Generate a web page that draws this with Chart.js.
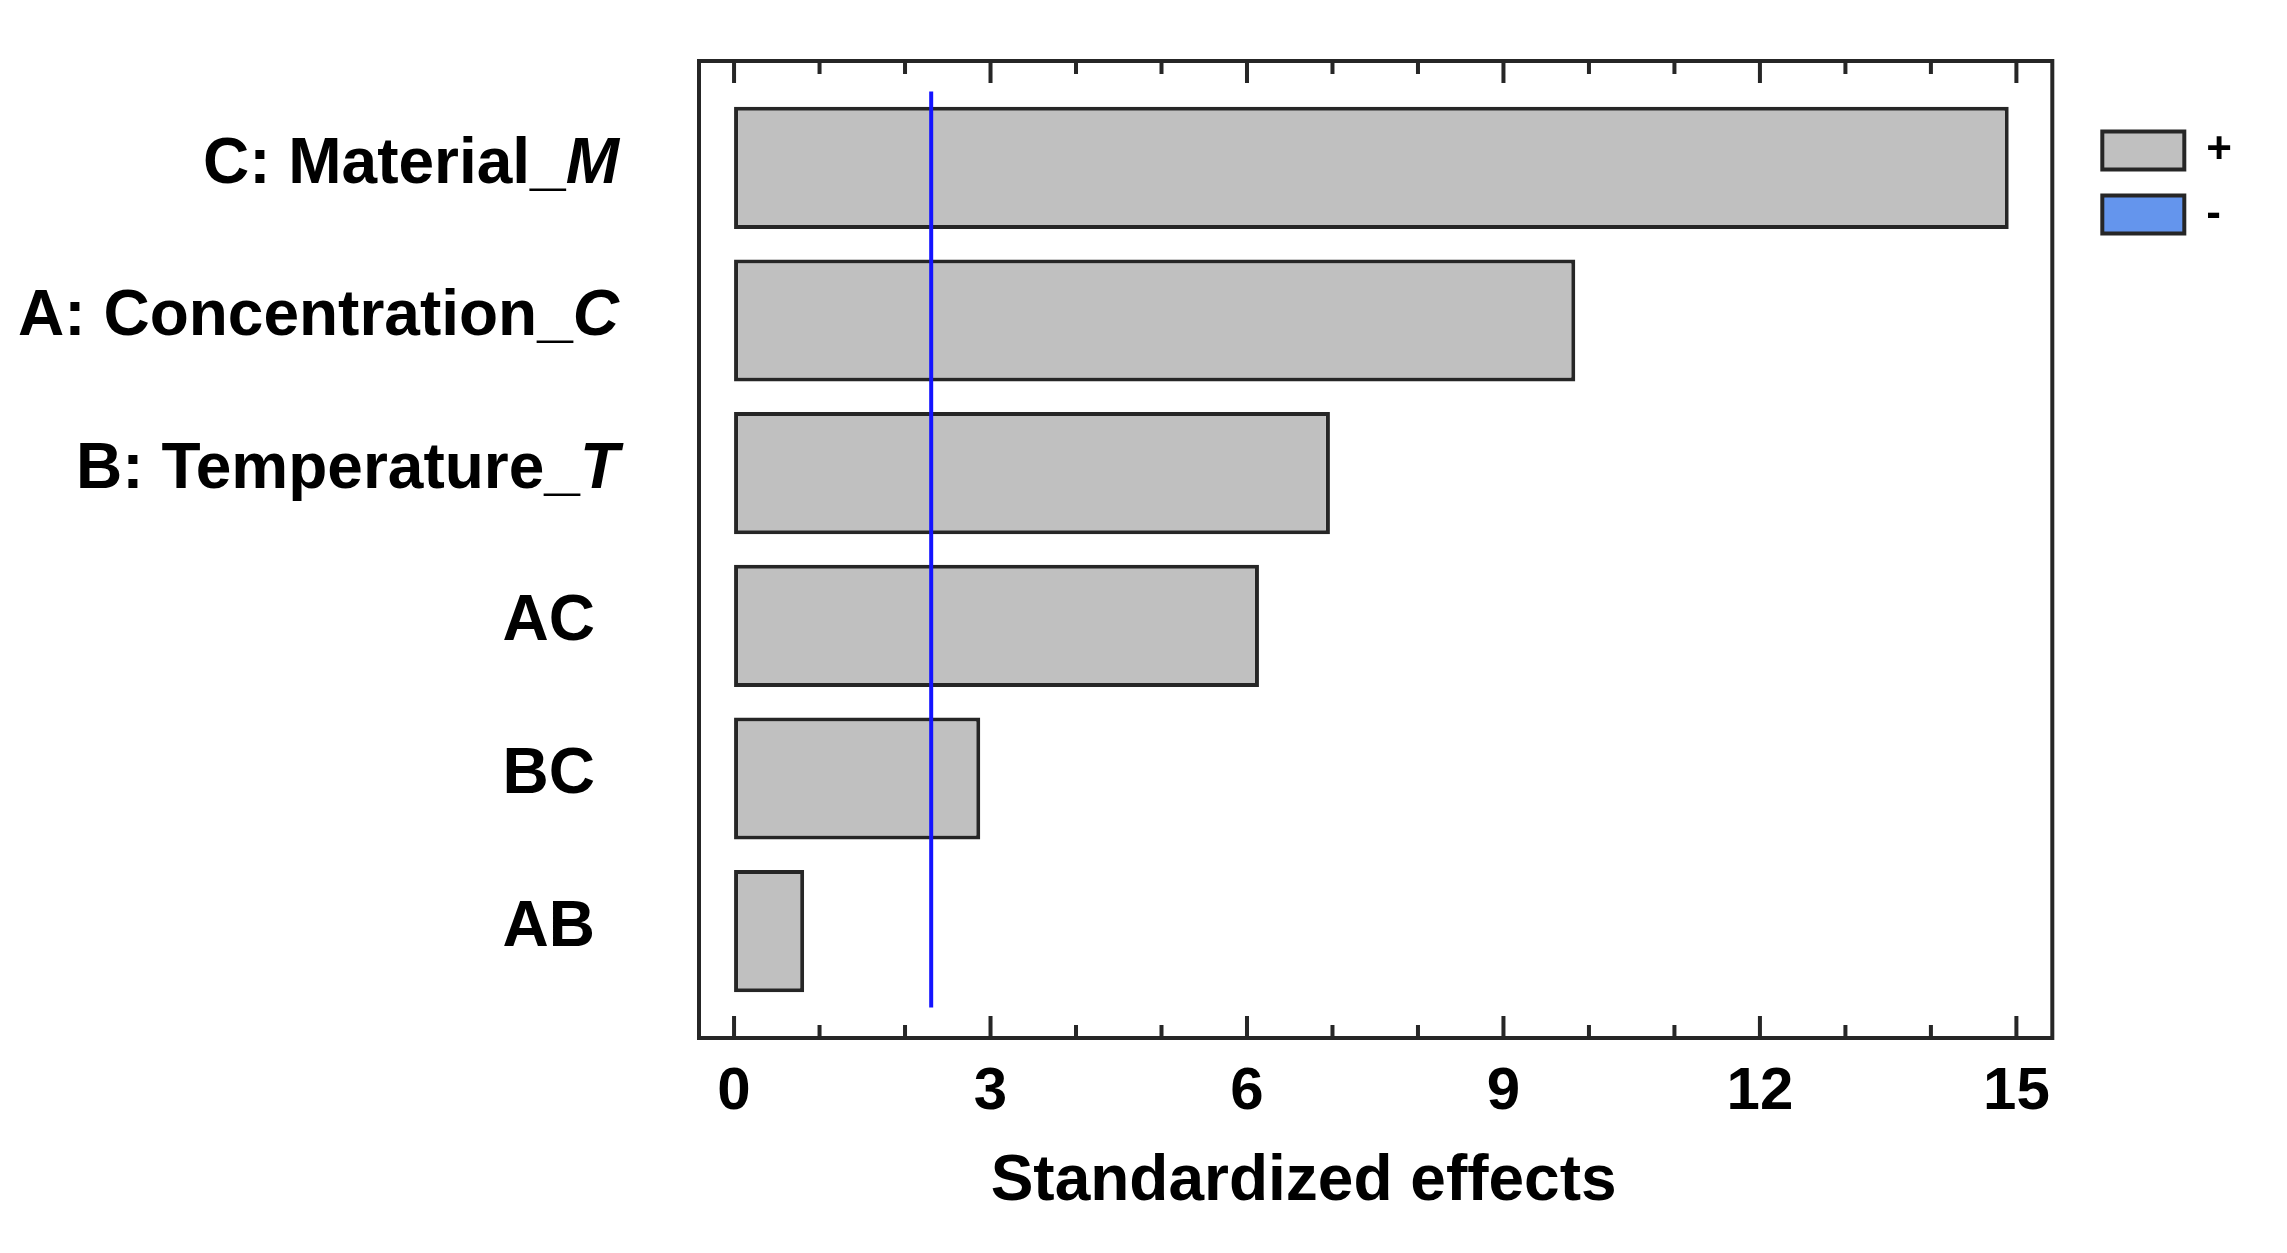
<!DOCTYPE html>
<html lang="en">

<head>
    <meta charset="UTF-8">
    <meta name="viewport" content="width=device-width, initial-scale=1.0">
    <title>Standardized effects</title>
    <script src="https://cdn.jsdelivr.net/npm/chart.js"></script>
    <style>
        html,
        body {
            margin: 0;
            padding: 0;
            background-color: #fff
        }

        #container {
            width: 2287px;
            height: 1253px
        }
    </style>
</head>

<body>
    <div id="container">
        <canvas id="mycanvas"></canvas>
    </div>

    <script>
        // factor names (the last letter is printed in italic)
        const labelText = ['C: Material_', 'A: Concentration_', 'B: Temperature_', 'AC', 'BC', 'AB']
        const labelItalic = ['M', 'C', 'T', '', '', '']
        // standardized effects
        const effects = [14.91, 9.84, 6.97, 6.14, 2.88, 0.82]
        // critical value (blue reference line) and its extent in category units
        const criticalValue = 2.306
        const lineExtent = [-0.5, 5.5]
        // x axis ticks
        const xTicks = [0, 3, 6, 9, 12, 15]
        const minorStep = 1
        const xTitle = 'Standardized effects'
        // legend
        const legendLabels = ['+', '-']
        const legendColors = ['#c0c0c0', '#6495ed']

        const fontFamily = '"Liberation Sans", Arial, sans-serif'
        const edgeColor = '#262626'

        // frame, inward tick marks, category labels with italic suffix and axis title
        const framePlugin = {
            id: 'frame',
            afterDatasetsDraw(chart) {
                const { ctx, chartArea: a, scales: { x, y } } = chart
                ctx.save()
                ctx.strokeStyle = edgeColor
                ctx.lineWidth = 4
                ctx.strokeRect(a.left, a.top, a.right - a.left, a.bottom - a.top)

                for (let v = xTicks[0]; v <= xTicks[xTicks.length - 1]; v += minorStep) {
                    const px = x.getPixelForValue(v)
                    const len = xTicks.includes(v) ? 22 : 13
                    ctx.beginPath()
                    ctx.moveTo(px, a.bottom)
                    ctx.lineTo(px, a.bottom - len)
                    ctx.moveTo(px, a.top)
                    ctx.lineTo(px, a.top + len)
                    ctx.stroke()
                }

                ctx.fillStyle = '#000'
                ctx.textBaseline = 'middle'
                ctx.textAlign = 'left'
                labelText.forEach((t, i) => {
                    const py = y.getPixelForValue(i) - 3
                    ctx.font = 'bold 64px ' + fontFamily
                    const w1 = ctx.measureText(t).width
                    ctx.font = 'italic bold 64px ' + fontFamily
                    const w2 = ctx.measureText(labelItalic[i]).width
                    const right = a.left - (labelItalic[i] ? 80 : 104)
                    const x0 = right - w1 - w2
                    ctx.font = 'bold 64px ' + fontFamily
                    ctx.fillText(t, x0, py)
                    ctx.font = 'italic bold 64px ' + fontFamily
                    ctx.fillText(labelItalic[i], x0 + w1, py)
                })

                ctx.font = 'bold 64px ' + fontFamily
                ctx.textAlign = 'center'
                ctx.fillText(xTitle, (a.left + a.right) / 2 - 72, a.bottom + 144)
                ctx.restore()
            }
        }

        window.onload = () => {
            new Chart(document.getElementById('mycanvas'), {
                type: 'bar',
                plugins: [framePlugin],
                data: {
                    datasets: [
                        {
                            type: 'scatter',
                            label: 'critical',
                            data: lineExtent.map(v => ({ x: criticalValue, y: v })),
                            showLine: true,
                            borderColor: '#1414ff',
                            borderWidth: 4,
                            pointRadius: 0,
                            order: 0
                        },
                        {
                            label: '+',
                            data: effects.map((v, i) => ({ x: v, y: i })),
                            backgroundColor: legendColors[0],
                            borderColor: edgeColor,
                            borderWidth: 4,
                            borderSkipped: false,
                            barPercentage: 0.8,
                            categoryPercentage: 1,
                            order: 1
                        }
                    ]
                },
                options: {
                    indexAxis: 'y',
                    responsive: true,
                    maintainAspectRatio: false,
                    animation: false,
                    events: [],
                    layout: {
                        padding: { left: 699, top: 61, right: 45, bottom: 107 }
                    },
                    scales: {
                        x: {
                            type: 'linear',
                            min: -0.41,
                            max: 15.42,
                            bounds: 'data',
                            grid: { display: false, drawTicks: false },
                            border: { display: false },
                            ticks: {
                                stepSize: 3,
                                includeBounds: false,
                                padding: 18,
                                color: '#000',
                                font: { family: fontFamily, size: 60, weight: 'bold' }
                            },
                            afterBuildTicks: s => { s.ticks = xTicks.map(v => ({ value: v })) }
                        },
                        y: {
                            // kept on the right with no marks: it only leaves the gap before the legend
                            type: 'linear',
                            position: 'right',
                            reverse: true,
                            offset: false,
                            min: -0.7,
                            max: 5.7,
                            bounds: 'data',
                            grid: { display: false, drawTicks: true, tickLength: 30 },
                            border: { display: false },
                            ticks: { display: false, stepSize: 1, includeBounds: false },
                            afterBuildTicks: s => { s.ticks = labelText.map((t, i) => ({ value: i })) }
                        }
                    },
                    plugins: {
                        tooltip: { enabled: false },
                        legend: {
                            position: 'right',
                            align: 'start',
                            onClick: null,
                            title: { display: true, text: '', padding: { top: 0, bottom: 33 } },
                            labels: {
                                boxWidth: 82,
                                boxHeight: 38,
                                padding: 20,
                                color: '#000',
                                font: { family: fontFamily, size: 44, weight: 'bold' },
                                generateLabels: () => legendLabels.map((t, i) => ({
                                    text: t,
                                    fillStyle: legendColors[i],
                                    strokeStyle: edgeColor,
                                    fontColor: '#000',
                                    lineWidth: 4,
                                    hidden: false,
                                    datasetIndex: 1
                                }))
                            }
                        }
                    }
                }
            })
        }
    </script>
</body>

</html>
